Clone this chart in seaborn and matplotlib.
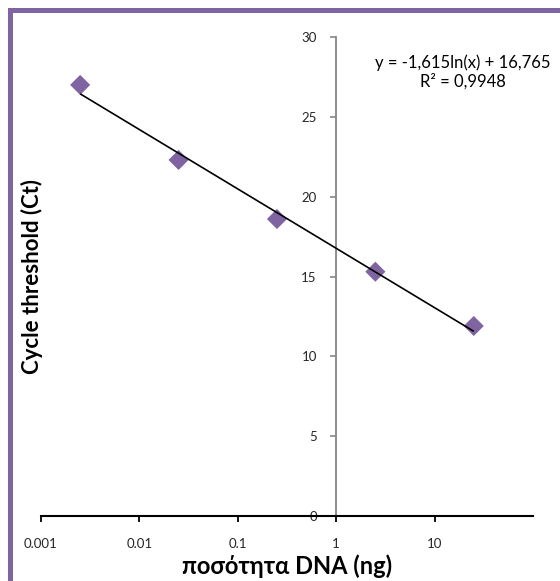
import numpy as np
import pandas as pd
import matplotlib
matplotlib.use("Agg")
import matplotlib.pyplot as plt
import seaborn as sns
from matplotlib.patches import Rectangle
from matplotlib.ticker import NullLocator

# Standard curve: DNA amount (ng) vs cycle threshold
dna_ng = [0.0025, 0.025, 0.25, 2.5, 25]
ct_values = [27.0, 22.3, 18.6, 15.3, 11.9]

# Logarithmic trendline coefficients
fit_slope = -1.615
fit_intercept = 16.765
r_squared = 0.9948

x_ticks = [0.001, 0.01, 0.1, 1, 10]
x_tick_labels = ["0.001", "0.01", "0.1", "1", "10"]
y_ticks = [0, 5, 10, 15, 20, 25, 30]

sns.set_theme(style="white")
plt.rcParams["font.family"] = ["Lato", "Noto Sans", "DejaVu Sans"]

PURPLE = "#8064A2"
W, H = 560, 581

fig = plt.figure(figsize=(W / 100, H / 100), dpi=100)
fig.patch.set_facecolor("white")
ax = fig.add_axes([41 / W, 65 / H, 492 / W, 479 / H])
ax.set_facecolor("white")

df = pd.DataFrame({"dna": dna_ng, "ct": ct_values})
sns.scatterplot(data=df, x="dna", y="ct", marker="D", s=105, color=PURPLE,
                edgecolor="none", ax=ax, zorder=3, legend=False)

# Trendline across the range of the measured points
x_fit = np.array([min(dna_ng), max(dna_ng)])
y_fit = fit_slope * np.log(x_fit) + fit_intercept
ax.plot(x_fit, y_fit, color="black", lw=1.2, zorder=4, solid_capstyle="butt")

ax.set_xscale("log")
ax.set_xlim(0.001, 100)
ax.set_ylim(0, 30)
ax.xaxis.set_minor_locator(NullLocator())
ax.yaxis.set_minor_locator(NullLocator())
ax.set_xticks(x_ticks)
ax.set_xticklabels(x_tick_labels)
ax.set_yticks(y_ticks)
ax.set_yticklabels([str(v) for v in y_ticks])
ax.set_xlabel("")
ax.set_ylabel("")

for side in ("top", "right"):
    ax.spines[side].set_visible(False)
ax.spines["left"].set_position(("data", 1))
ax.spines["left"].set_color("#868686")
ax.spines["left"].set_linewidth(1.3)
ax.spines["bottom"].set_color("black")
ax.spines["bottom"].set_linewidth(1.5)

ax.tick_params(axis="x", direction="out", length=4, width=1.3, color="black",
               labelsize=9.5, labelcolor="#262626", pad=12, bottom=True)
ax.tick_params(axis="y", direction="out", length=4, width=1.2, color="#868686",
               labelsize=9.5, labelcolor="#262626", pad=10, left=True)

fig.text(287 / W, 1 - 566 / H, "ποσότητα DNA (ng)", ha="center", va="center",
         fontsize=17, fontweight="bold", color="black")
fig.text(32 / W, 1 - 276 / H, "Cycle threshold (Ct)", ha="center", va="center",
         rotation=90, fontsize=16, fontweight="bold", color="black")

eq = f"y = {fit_slope:.3f}ln(x) + {fit_intercept:.3f}".replace(".", ",")
r2 = f"R² = {r_squared:.4f}".replace(".", ",")
fig.text(463 / W, 1 - 63 / H, eq, ha="center", va="center", fontsize=12, color="black")
fig.text(463 / W, 1 - 81 / H, r2, ha="center", va="center", fontsize=12, color="black")

# Chart-area frame
frame = Rectangle((9.5 / W, -0.2), 1.5, 1.2 - 10 / H, transform=fig.transFigure,
                  fill=False, edgecolor=PURPLE, linewidth=3.6, clip_on=False, zorder=0)
fig.add_artist(frame)

fig.savefig("out.png", dpi=100)
